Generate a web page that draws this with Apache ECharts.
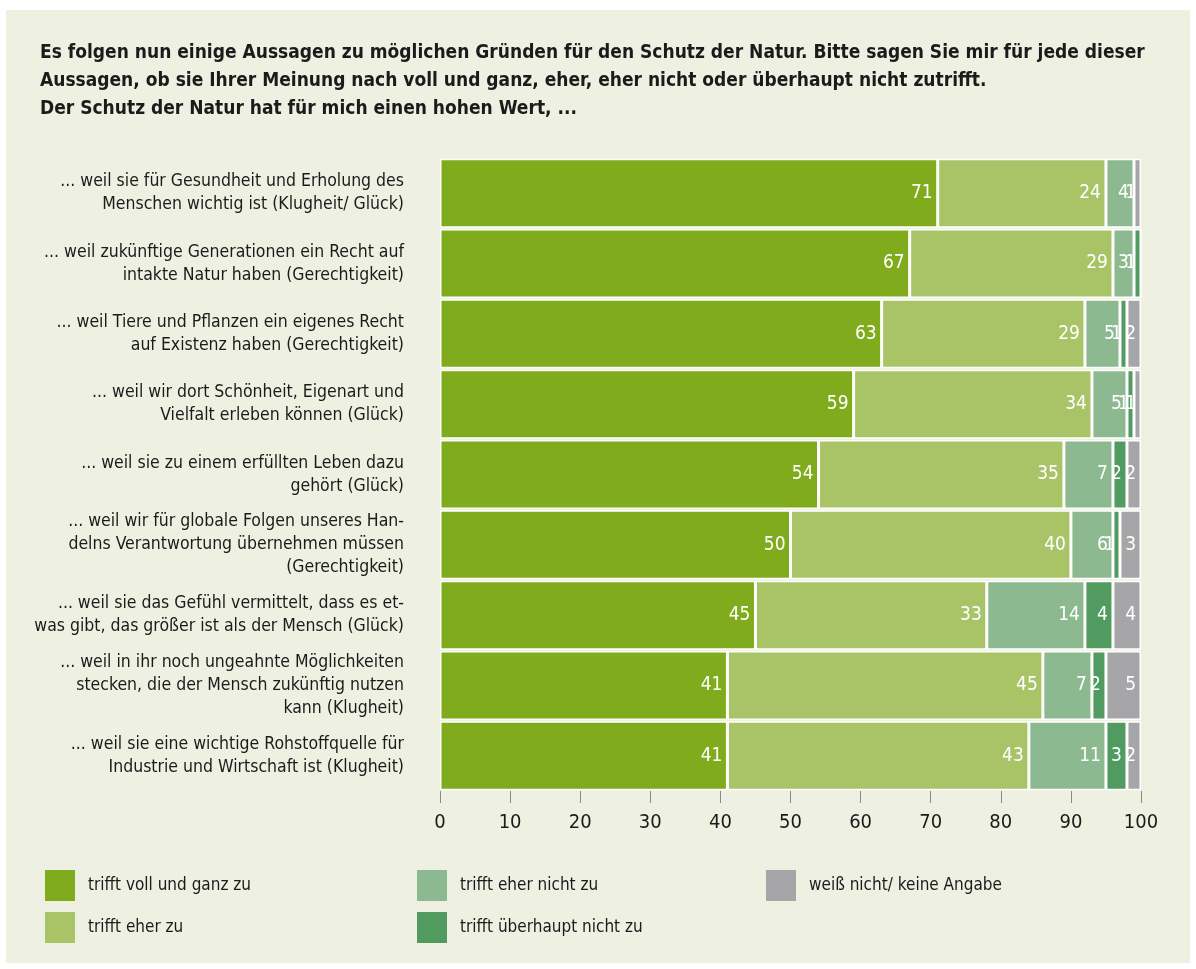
<!DOCTYPE html>
<html><head><meta charset="utf-8">
<script src="https://cdn.jsdelivr.net/npm/echarts@6/dist/echarts.min.js"></script>
<style>html,body{margin:0;padding:0;background:#fff}#c{width:1196px;height:969px}</style>
</head><body><div id="c"></div>
<script>
const categories = [
  "... weil sie für Gesundheit und Erholung des\nMenschen wichtig ist (Klugheit/ Glück)",
  "... weil zukünftige Generationen ein Recht auf\nintakte Natur haben (Gerechtigkeit)",
  "... weil Tiere und Pflanzen ein eigenes Recht\nauf Existenz haben (Gerechtigkeit)",
  "... weil wir dort Schönheit, Eigenart und\nVielfalt erleben können (Glück)",
  "... weil sie zu einem erfüllten Leben dazu\ngehört (Glück)",
  "... weil wir für globale Folgen unseres Han-\ndelns Verantwortung übernehmen müssen\n(Gerechtigkeit)",
  "... weil sie das Gefühl vermittelt, dass es et-\nwas gibt, das größer ist als der Mensch (Glück)",
  "... weil in ihr noch ungeahnte Möglichkeiten\nstecken, die der Mensch zukünftig nutzen\nkann (Klugheit)",
  "... weil sie eine wichtige Rohstoffquelle für\nIndustrie und Wirtschaft ist (Klugheit)"
];
const seriesNames = ["trifft voll und ganz zu","trifft eher zu","trifft eher nicht zu","trifft überhaupt nicht zu","weiß nicht/ keine Angabe"];
const vollUndGanz = [71,67,63,59,54,50,45,41,41];
const eher        = [24,29,29,34,35,40,33,45,43];
const eherNicht   = [4,3,5,5,7,6,14,7,11];
const ueberhauptNicht = [0,1,1,1,2,1,4,2,3];
const weissNicht  = [1,0,2,1,2,3,4,5,2];
const xTicks = [0,10,20,30,40,50,60,70,80,90,100];
const colors = ["#80ab1c","#a9c466","#8cb98f","#519b60","#a6a6a9"];
const title = "Es folgen nun einige Aussagen zu möglichen Gründen für den Schutz der Natur. Bitte sagen Sie mir für jede dieser\nAussagen, ob sie Ihrer Meinung nach voll und ganz, eher, eher nicht oder überhaupt nicht zutrifft.\nDer Schutz der Natur hat für mich einen hohen Wert, ...";

const FONT = "DejaVu Sans Condensed";
const values = [vollUndGanz, eher, eherNicht, ueberhauptNicht, weissNicht];
const legendBase = {orient:'vertical', top:870, padding:0, itemWidth:30, itemHeight:31, itemGap:11, icon:'rect',
  itemStyle:{borderWidth:0}, textStyle:{fontFamily:FONT,fontSize:17,color:'#1b1b1b',padding:[0,0,0,8]}};
const chart = echarts.init(document.getElementById('c'));
chart.setOption({
  backgroundColor: '#ffffff',
  animation: false,
  textStyle: {fontFamily: FONT},
  graphic: [{type:'rect', shape:{x:6,y:10,width:1184,height:953}, style:{fill:'#eef0e2'}, z:-10}],
  title: {text: title, left: 40, top: 39, padding:0, textStyle:{fontFamily:FONT, fontSize:19, fontWeight:'bold', color:'#1b1b1b', lineHeight:28}},
  legend: [
    Object.assign({data:[seriesNames[0],seriesNames[1]], left:45}, legendBase),
    Object.assign({data:[seriesNames[2],seriesNames[3]], left:417}, legendBase),
    Object.assign({data:[seriesNames[4]], left:766}, legendBase)
  ],
  grid: {left:440, top:158, width:701, height:633, containLabel:false},
  xAxis: {type:'value', min:0, max:100, interval:10,
    axisLine:{show:false}, splitLine:{show:false},
    axisTick:{show:true, length:12, lineStyle:{color:'#8a8a8a'}},
    axisLabel:{fontFamily:FONT, fontSize:20, color:'#1b1b1b', margin:22, formatter: v => xTicks.includes(v) ? String(v) : ''}
  },
  yAxis: {type:'category', data:categories, inverse:true,
    axisLine:{show:false}, axisTick:{show:false},
    axisLabel:{fontFamily:FONT, fontSize:17.5, color:'#1b1b1b', lineHeight:23, margin:36, align:'right'}
  },
  series: values.map((arr, i) => ({
    name: seriesNames[i], type:'bar', stack:'total', data: arr, barCategoryGap:'2%',
    itemStyle:{color:colors[i], borderColor:'#ffffff', borderWidth:1.5},
    label:{show:true, position:'insideRight', distance:5, color:'#ffffff', fontFamily:FONT, fontSize:19,
      formatter: p => p.value > 0 ? String(p.value) : ''}
  }))
});
</script></body></html>
